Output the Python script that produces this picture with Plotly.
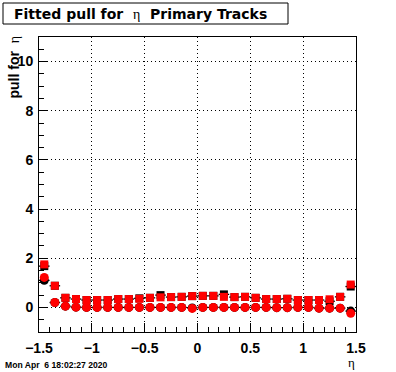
import plotly.graph_objects as go

# bin centres in eta
eta = [-1.45, -1.35, -1.25, -1.15, -1.05, -0.95, -0.85, -0.75, -0.65, -0.55,
       -0.45, -0.35, -0.25, -0.15, -0.05, 0.05, 0.15, 0.25, 0.35, 0.45,
       0.55, 0.65, 0.75, 0.85, 0.95, 1.05, 1.15, 1.25, 1.35, 1.45]

# red squares (fitted sigma of pull)
sigma_red = [1.75, 0.88, 0.39, 0.34, 0.30, 0.30, 0.30, 0.34, 0.34, 0.35,
             0.39, 0.41, 0.42, 0.43, 0.46, 0.47, 0.47, 0.43, 0.42, 0.43,
             0.39, 0.34, 0.34, 0.35, 0.30, 0.30, 0.30, 0.33, 0.43, 0.93]
# black squares (underlying set)
sigma_black = [1.68, 0.88, 0.39, 0.34, 0.30, 0.30, 0.30, 0.34, 0.34, 0.37,
               0.39, 0.50, 0.42, 0.43, 0.46, 0.47, 0.47, 0.53, 0.42, 0.43,
               0.39, 0.34, 0.34, 0.35, 0.30, 0.30, 0.30, 0.25, 0.43, 0.85]

# red circles (fitted mean of pull)
mean_red = [1.22, 0.20, 0.05, 0.01, 0.00, 0.00, 0.00, 0.00, 0.00, 0.00,
            0.00, 0.00, 0.00, 0.00, -0.04, 0.00, 0.00, 0.00, 0.00, 0.00,
            0.00, 0.00, -0.01, -0.01, 0.00, 0.00, -0.03, -0.03, -0.03, -0.24]
mean_black = [1.10, 0.20, 0.05, 0.01, 0.00, 0.00, 0.00, 0.00, 0.00, 0.00,
              0.00, 0.00, 0.00, 0.00, -0.02, 0.00, 0.00, 0.00, 0.00, 0.00,
              0.00, 0.00, -0.01, -0.01, 0.00, 0.00, -0.03, -0.03, -0.03, -0.15]

half_bin = [0.05] * len(eta)

W, H = 396, 372
L, R, T, B = 39, 40, 37, 40
pw, ph = W - L - R, H - T - B


def px(x):
    return (x - L) / pw


def py(y):
    return (H - B - y) / ph


fig = go.Figure()

for vals, sym, size in [(sigma_black, "square", 8), (mean_black, "circle", 9)]:
    fig.add_trace(go.Scatter(
        x=eta, y=vals, mode="markers",
        marker=dict(symbol=sym, size=size, color="black", line=dict(width=0)),
        error_x=dict(type="data", array=half_bin, color="black", thickness=1.3, width=0),
        showlegend=False, hoverinfo="skip"))

for vals, sym, size in [(sigma_red, "square", 8), (mean_red, "circle", 9)]:
    fig.add_trace(go.Scatter(
        x=eta, y=vals, mode="markers",
        marker=dict(symbol=sym, size=size, color="#ff0000", line=dict(width=0)),
        showlegend=False, hoverinfo="skip"))

axis_common = dict(
    showline=True, linecolor="black", linewidth=1, mirror=True,
    ticks="inside", tickcolor="black", tickwidth=1,
    showgrid=True, gridcolor="black", griddash="1px,3px", gridwidth=1,
    zeroline=False,
    tickfont=dict(family="Liberation Sans", size=14, color="black", weight="bold"),
)

fig.update_xaxes(range=[-1.5, 1.5], tickmode="linear", tick0=-1.5, dtick=0.5,
                 ticklen=9, minor=dict(ticks="inside", dtick=0.1, ticklen=5,
                                       tickcolor="black", showgrid=False),
                 ticklabelstandoff=3, **axis_common)
fig.update_yaxes(range=[-1, 11], tickmode="linear", tick0=0, dtick=2,
                 ticklen=9, minor=dict(ticks="inside", dtick=0.5, ticklen=5,
                                       tickcolor="black", showgrid=False),
                 ticklabelstandoff=2, **axis_common)

eta_span = ("<span style='font-family:Liberation Serif;font-weight:normal;"
            "fill:#000000;color:#000000'>η</span>")

annotations = [
    dict(text="<b>Fitted pull for\u00a0\u00a0</b>" + eta_span + "<b>\u00a0\u00a0Primary Tracks</b>",
         x=px(12), y=py(14), xanchor="left", yanchor="middle",
         font=dict(family="DejaVu Sans", size=14, color="black")),
    dict(text="<b>pull for\u00a0\u00a0</b>" + eta_span,
         x=px(14), y=py(34), xanchor="center", yanchor="top", textangle=-90,
         font=dict(family="Liberation Sans", size=14, color="black")),
    dict(text="η", x=px(351), y=py(362), xanchor="center", yanchor="middle",
         font=dict(family="Liberation Serif", size=13, color="black")),
    dict(text="<b>Mon Apr\u00a0\u00a06 18:02:27 2020</b>", x=px(3), y=py(365),
         xanchor="left", yanchor="middle",
         font=dict(family="Liberation Sans", size=8.6, color="black")),
]
for a in annotations:
    a.update(xref="paper", yref="paper", showarrow=False)

fig.update_layout(
    width=W, height=H,
    margin=dict(l=L, r=R, t=T, b=B),
    paper_bgcolor="white", plot_bgcolor="white",
    annotations=annotations,
    shapes=[dict(type="rect", xref="paper", yref="paper",
                 x0=px(3), x1=px(288), y0=py(3), y1=py(24),
                 line=dict(color="black", width=1), fillcolor="rgba(0,0,0,0)")],
)

fig.write_html("out.html", config={"displayModeBar": False},
               post_script="document.body.style.margin='0';")
